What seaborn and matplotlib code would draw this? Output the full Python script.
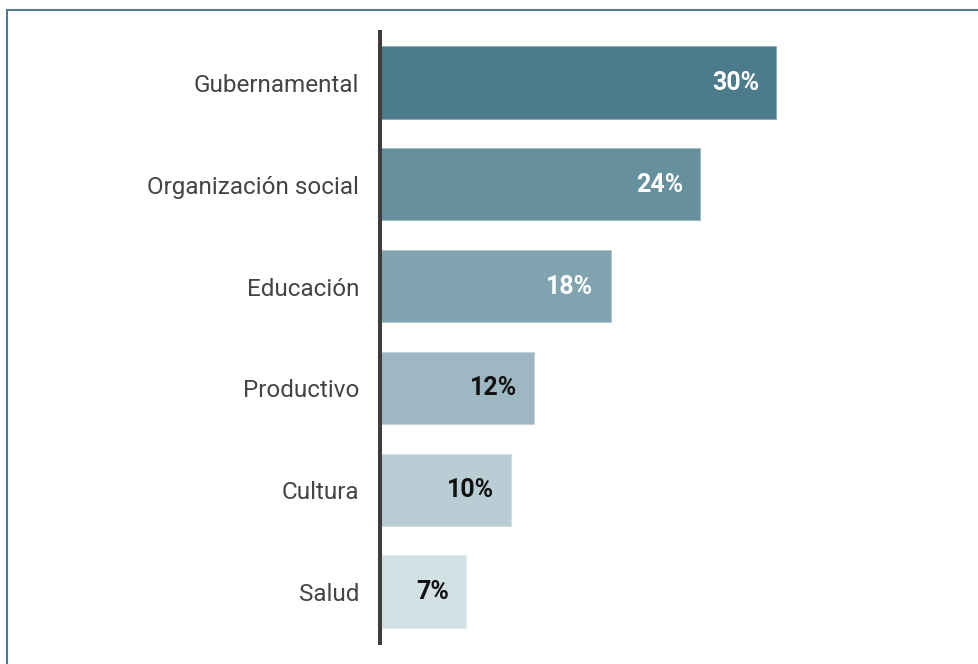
import matplotlib
matplotlib.use("Agg")
import matplotlib.pyplot as plt
import seaborn as sns
import pandas as pd
from matplotlib.patches import Rectangle

categories = ["Gubernamental", "Organización social", "Educación", "Productivo", "Cultura", "Salud"]
values = [30.0, 24.3, 17.5, 11.7, 10.0, 6.6]
value_labels = ["30%", "24%", "18%", "12%", "10%", "7%"]
bar_colors = ["#4c7b8b", "#67909f", "#81a4b0", "#9db8c2", "#b9cdd4", "#d3e0e4"]
label_colors = ["white", "white", "white", "#111111", "#111111", "#111111"]

sns.set_theme(style="white")
plt.rcParams["font.family"] = ["Roboto", "DejaVu Sans"]

df = pd.DataFrame({"categoria": categories, "valor": values})

fig = plt.figure(figsize=(9.79, 6.64), dpi=100)
ax = fig.add_axes([380 / 979, 21 / 664, 580 / 979, 611 / 664])

sns.barplot(data=df, x="valor", y="categoria", hue="categoria", order=categories,
            palette=bar_colors, saturation=1, legend=False, width=0.72, ax=ax,
            edgecolor=(1, 1, 1, 0.45), linewidth=1.2)

ax.set_xlim(0, 580 / 13.23)
ax.set_ylim(5.5, -0.5)

for i, (v, lab, c) in enumerate(zip(values, value_labels, label_colors)):
    ax.annotate(lab, xy=(v, i), xytext=(-18, 0), textcoords="offset pixels",
                ha="right", va="center", fontsize=18, fontweight="bold", color=c)

for s in ["top", "right", "bottom"]:
    ax.spines[s].set_visible(False)
ax.spines["left"].set_color("#3d3d3d")
ax.spines["left"].set_linewidth(2.9)
ax.set_xticks([])
ax.set_xlabel("")
ax.set_ylabel("")
ax.tick_params(axis="y", length=0, pad=15, labelsize=17.5, labelcolor="#444444")

# figure frame (top and left edges visible)
fig.patches.append(Rectangle((7.5 / 979, -0.1), 1.2, (664 - 9.5) / 664 + 0.1,
                             transform=fig.transFigure, fill=False,
                             edgecolor="#4f7c8c", linewidth=1.5, zorder=10))

fig.savefig("out.png", dpi=100)
